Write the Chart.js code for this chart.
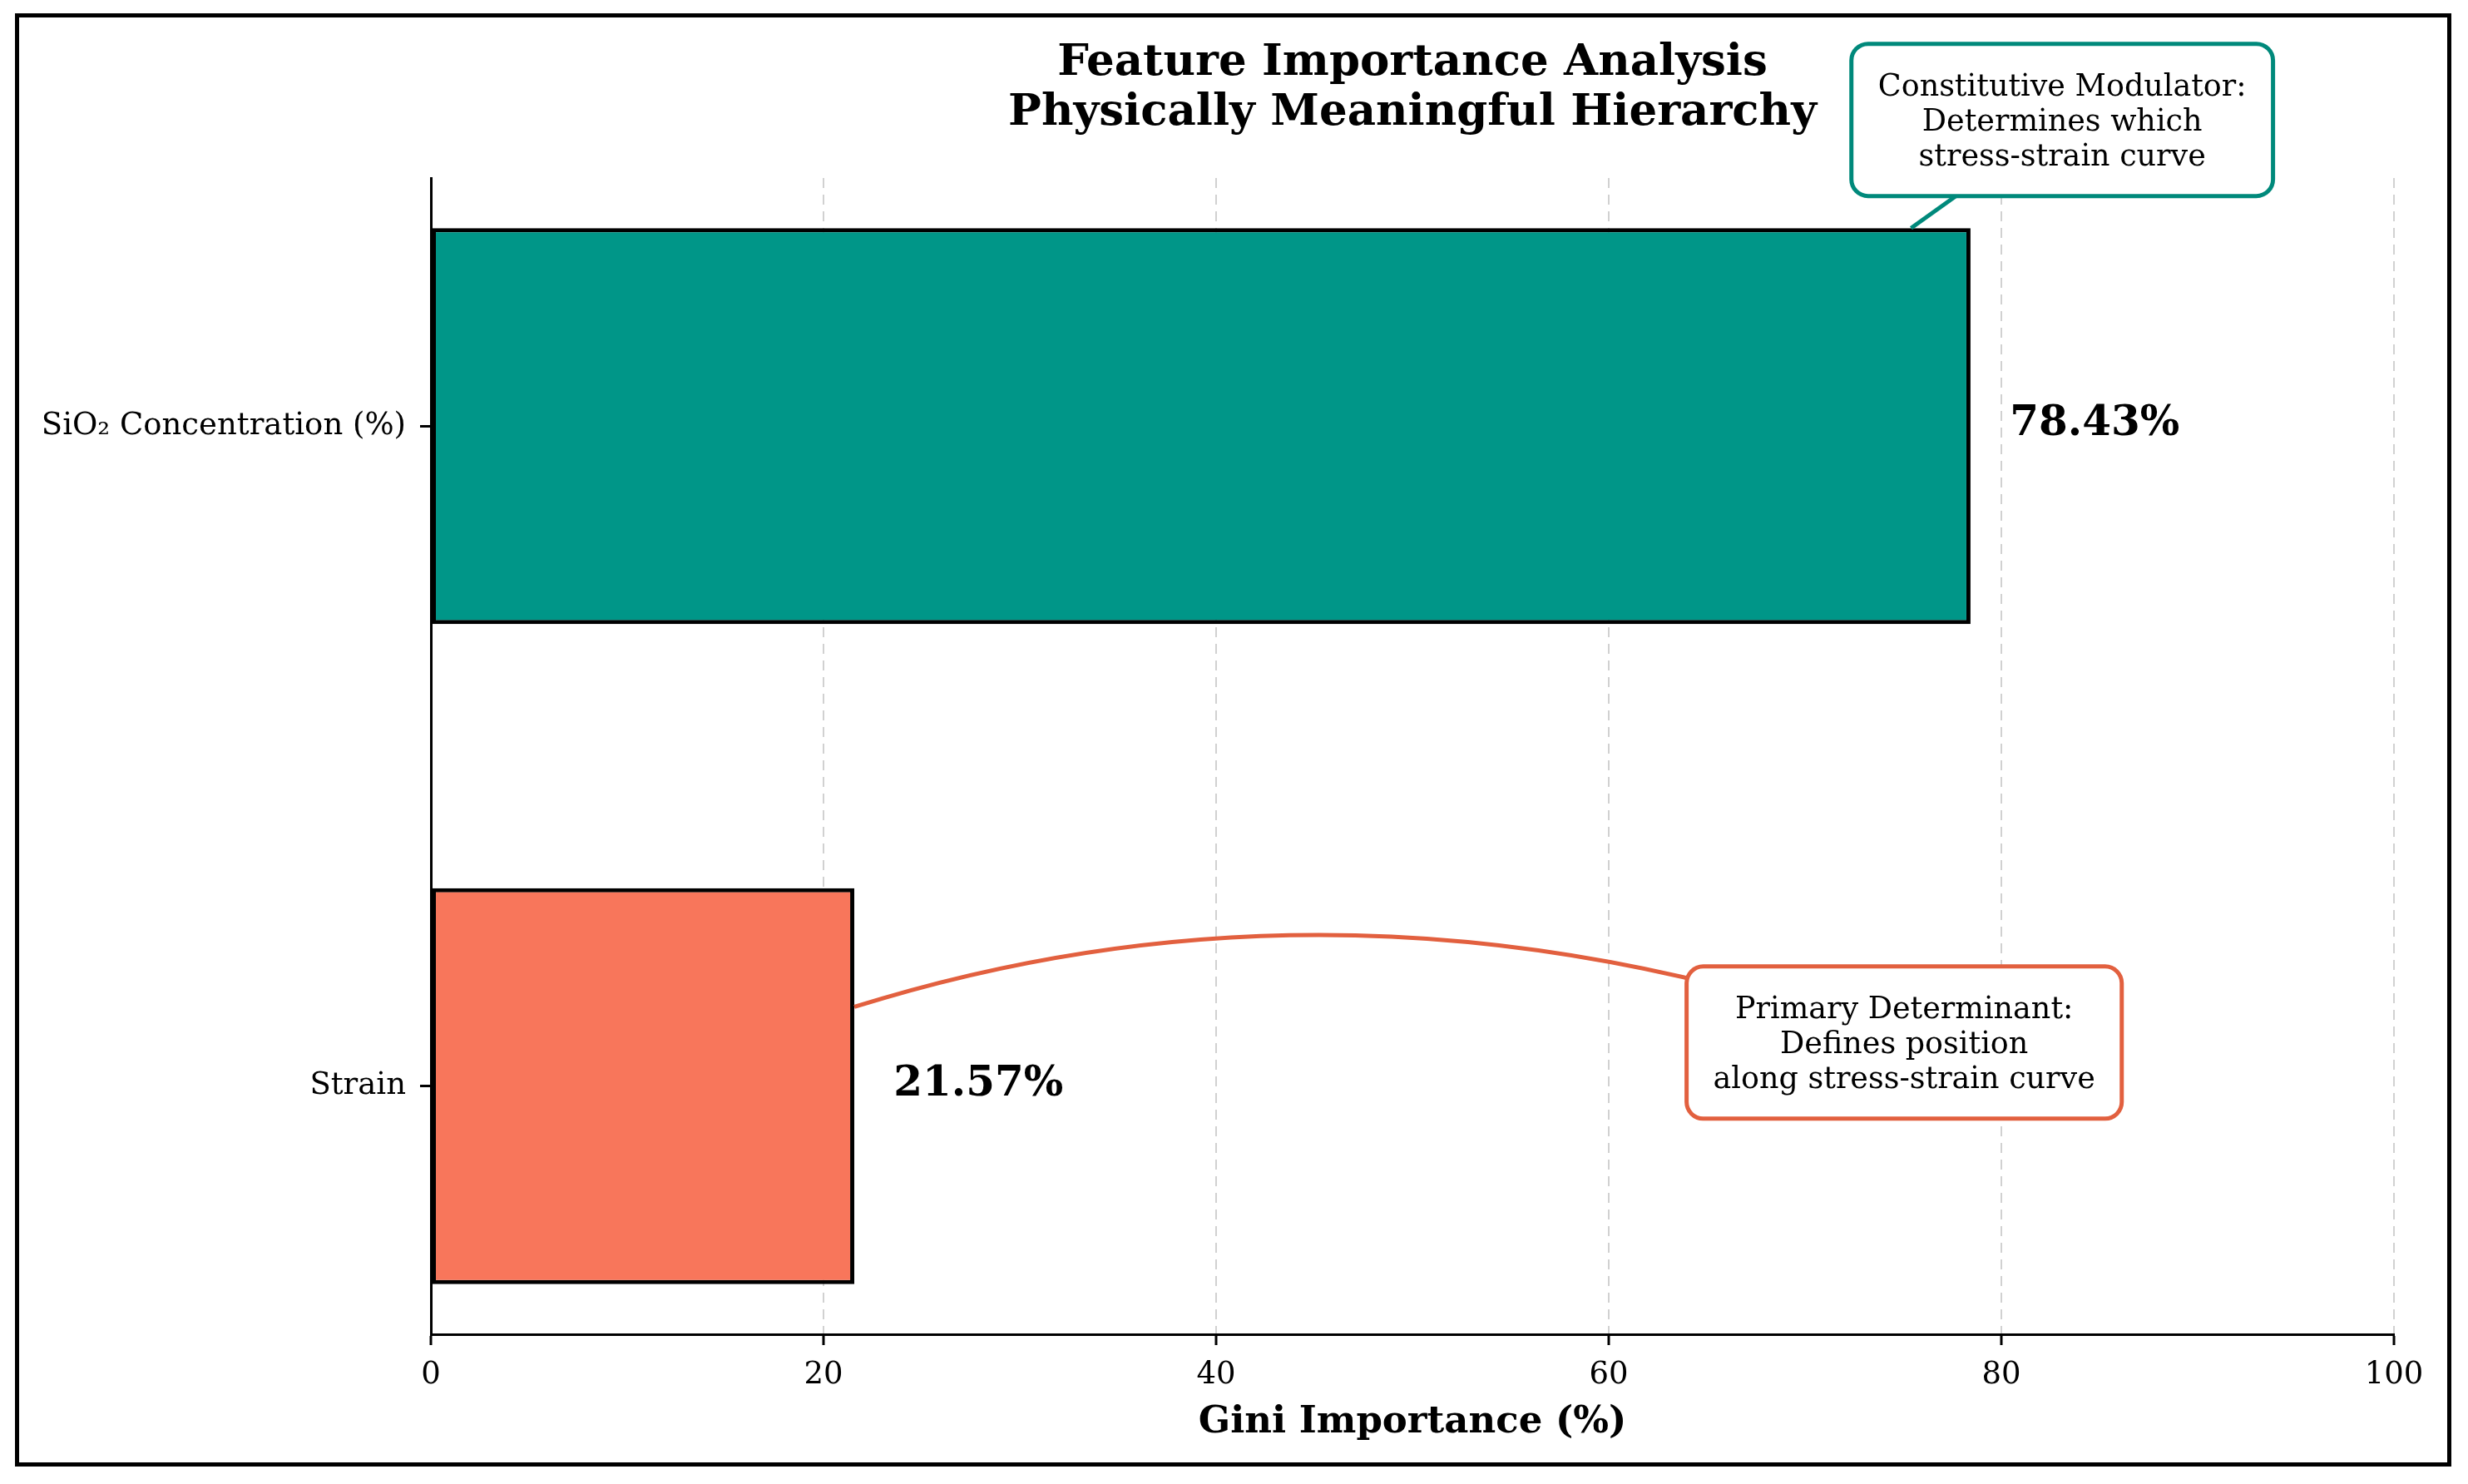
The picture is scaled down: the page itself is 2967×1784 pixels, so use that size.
<!DOCTYPE html>
<html>
<head>
<meta charset="utf-8">
<script src="https://cdn.jsdelivr.net/npm/chart.js@4.4.0/dist/chart.umd.min.js"></script>
<style>
  html, body { margin: 0; padding: 0; background: #fff; }
</style>
</head>
<body>
<canvas id="myChart" width="2967" height="1784"></canvas>
<script>
// chart data
const features = ["SiO\u2082 Concentration (%)", "Strain"];
const importance = [78.43, 21.57];
const barColors = ["#009688", "#F8765B"];
const xTicks = [0, 20, 40, 60, 80, 100];
const titleLines = ["Feature Importance Analysis", "Physically Meaningful Hierarchy"];
const xTitle = "Gini Importance (%)";
const noteTeal = ["Constitutive Modulator:", "Determines which", "stress-strain curve"];
const noteSalmon = ["Primary Determinant:", "Defines position", "along stress-strain curve"];

const FONT = "'DejaVu Serif', serif";

function drawNote(ctx, lines, cx, cy, color) {
    ctx.font = "36.5px " + FONT;
    const w = Math.max(...lines.map(s => ctx.measureText(s).width)) + 64;
    const h = 183;
    ctx.beginPath();
    ctx.roundRect(cx - w / 2, cy - h / 2, w, h, 20);
    ctx.fillStyle = "#fff";
    ctx.fill();
    ctx.lineWidth = 5;
    ctx.strokeStyle = color;
    ctx.stroke();
    ctx.fillStyle = "#000";
    ctx.textAlign = "center";
    ctx.textBaseline = "alphabetic";
    lines.forEach((s, i) => ctx.fillText(s, cx, cy + (i - 1) * 42 + 13));
}

const overlay = {
    id: "overlay",
    afterDraw(chart) {
        const { ctx, chartArea, scales: { x, y } } = chart;
        ctx.save();

        // outer frame
        ctx.strokeStyle = "#000";
        ctx.lineWidth = 5;
        ctx.strokeRect(20.5, 18.5, 2924, 1742);

        // title
        ctx.fillStyle = "#000";
        ctx.font = "bold 53px " + FONT;
        ctx.textAlign = "center";
        ctx.textBaseline = "alphabetic";
        const cx = (chartArea.left + chartArea.right) / 2;
        ctx.fillText(titleLines[0], cx, 90);
        ctx.fillText(titleLines[1], cx, 150);

        // value labels
        ctx.font = "bold 50px " + FONT;
        ctx.textAlign = "left";
        ctx.textBaseline = "middle";
        importance.forEach((v, i) => {
            ctx.fillText(v.toFixed(2) + "%", x.getPixelForValue(v + 2), y.getPixelForValue(i) - 2);
        });

        // teal callout: straight connector to the top of the first bar
        const tealC = [x.getPixelForValue(83.1), y.getPixelForValue(-0.464)];
        ctx.beginPath();
        ctx.moveTo(x.getPixelForValue(75.4), y.getPixelForValue(-0.3));
        ctx.lineTo(tealC[0], tealC[1]);
        ctx.strokeStyle = "#00897B";
        ctx.lineWidth = 5;
        ctx.stroke();
        drawNote(ctx, noteTeal, tealC[0], tealC[1], "#00897B");

        // salmon callout: arc from the box centre to the second bar (box hides the inner part)
        const salC = [x.getPixelForValue(75.05), y.getPixelForValue(0.934)];
        ctx.beginPath();
        ctx.moveTo(salC[0], salC[1]);
        ctx.quadraticCurveTo(x.getPixelForValue(47.54), y.getPixelForValue(0.6375),
                             x.getPixelForValue(21.57), y.getPixelForValue(0.88));
        ctx.strokeStyle = "#E2603F";
        ctx.lineWidth = 5;
        ctx.stroke();
        drawNote(ctx, noteSalmon, salC[0], salC[1], "#E2603F");

        ctx.restore();
    }
};

const ctx = document.getElementById("myChart").getContext("2d");
new Chart(ctx, {
    type: "bar",
    data: {
        datasets: [{
            data: importance.map((v, i) => ({ x: v, y: i })),
            backgroundColor: barColors,
            borderColor: "#000",
            borderWidth: 5,
            borderSkipped: false,
            barPercentage: 0.6,
            categoryPercentage: 1.0
        }]
    },
    options: {
        indexAxis: "y",
        responsive: false,
        devicePixelRatio: 1,
        animation: false,
        layout: { padding: { top: 214, right: 89, left: 0, bottom: 0 } },
        plugins: {
            legend: { display: false },
            tooltip: { enabled: false },
            title: { display: false }
        },
        scales: {
            x: {
                type: "linear",
                min: 0,
                max: 100,
                afterBuildTicks: s => { s.ticks = xTicks.map(v => ({ value: v })); },
                afterFit: s => { s.height = 180; },
                grid: {
                    color: "rgba(0,0,0,0.18)",
                    lineWidth: 2,
                    tickLength: 13,
                    tickColor: "#000",
                    tickWidth: 3
                },
                border: { display: true, color: "#000", width: 3, dash: [12, 8] },
                ticks: { color: "#000", font: { family: FONT, size: 37 }, padding: 14 },
                title: {
                    display: true,
                    text: xTitle,
                    color: "#000",
                    font: { family: FONT, size: 45, weight: "bold" },
                    padding: { top: 0, bottom: 47 }
                }
            },
            y: {
                type: "linear",
                reverse: true,
                offset: false,
                min: -0.376,
                max: 1.376,
                afterBuildTicks: s => { s.ticks = features.map((_, i) => ({ value: i })); },
                afterFit: s => { s.width = 518; },
                grid: { offset: false, drawOnChartArea: false, tickLength: 13, tickColor: "#000", tickWidth: 3 },
                border: { display: true, color: "#000", width: 3 },
                ticks: {
                    color: "#000",
                    font: { family: FONT, size: 37 },
                    padding: 17,
                    callback: v => features[v]
                }
            }
        }
    },
    plugins: [overlay]
});
</script>
</body>
</html>
